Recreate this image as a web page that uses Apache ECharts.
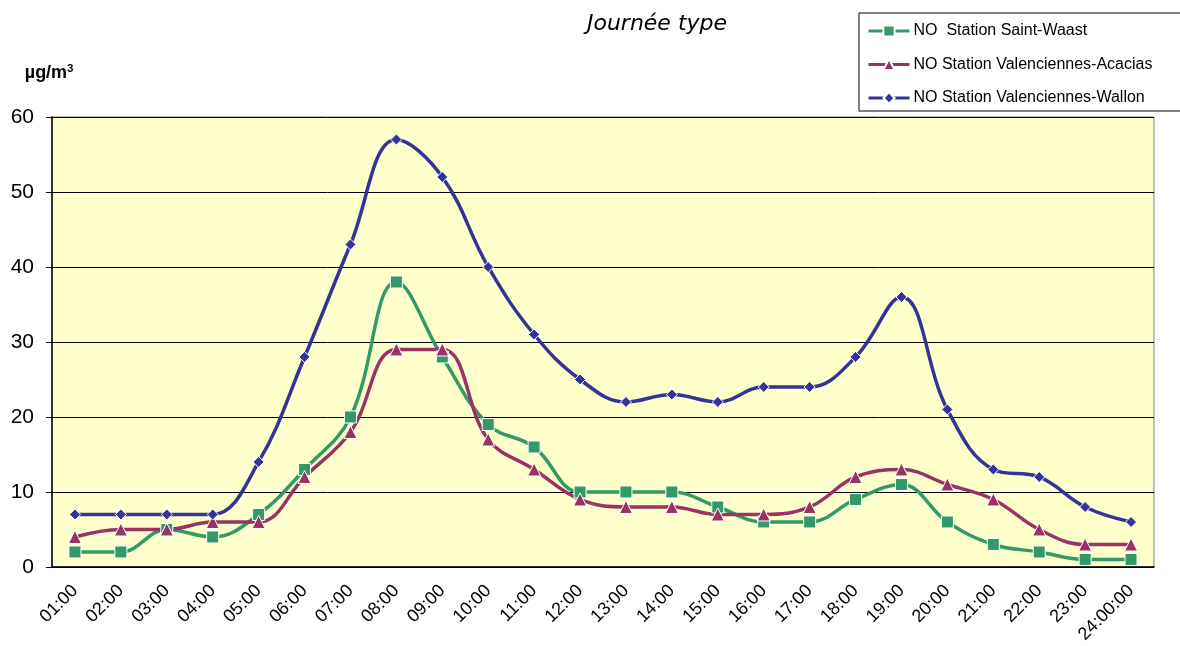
<!DOCTYPE html>
<html>
<head>
<meta charset="utf-8">
<script src="https://cdn.jsdelivr.net/npm/echarts@6/dist/echarts.min.js"></script>
<style>
	html, body { margin: 0; padding: 0; background: #FFFFFF; }
	#chart { width: 1180px; height: 646px; }
</style>
</head>
<body>
<div id="chart"></div>
<script>
	// heures de la journée type
	var hours = ['01:00','02:00','03:00','04:00','05:00','06:00','07:00','08:00','09:00','10:00','11:00','12:00',
		'13:00','14:00','15:00','16:00','17:00','18:00','19:00','20:00','21:00','22:00','23:00','24:00:00'];
	var saintWaast = [2, 2, 5, 4, 7, 13, 20, 38, 28, 19, 16, 10, 10, 10, 8, 6, 6, 9, 11, 6, 3, 2, 1, 1];
	var acacias = [4, 5, 5, 6, 6, 12, 18, 29, 29, 17, 13, 9, 8, 8, 7, 7, 8, 12, 13, 11, 9, 5, 3, 3];
	var wallon = [7, 7, 7, 7, 14, 28, 43, 57, 52, 40, 31, 25, 22, 23, 22, 24, 24, 28, 36, 21, 13, 12, 8, 6];
	var yTicks = [0, 10, 20, 30, 40, 50, 60];

	var chart = echarts.init(document.getElementById('chart'));

	function serie(name, data, color, symbol, size) {
		return {
			name: name,
			type: 'line',
			data: data,
			smooth: 0.4,
			symbol: symbol,
			symbolSize: size,
			showAllSymbol: true,
			lineStyle: { color: color, width: 3.5 },
			itemStyle: { color: color, borderColor: '#FFFFFF', borderWidth: 1 }
		};
	}

	var option = {
		animation: false,
		backgroundColor: '#FFFFFF',
		textStyle: { fontFamily: 'Liberation Sans, Arial, sans-serif' },
		title: {
			text: 'Journée type',
			left: 652,
			top: 8,
			textAlign: 'center',
			textStyle: { fontFamily: 'DejaVu Sans', fontStyle: 'italic', fontWeight: 'normal', fontSize: 22, color: '#000000' }
		},
		legend: {
			orient: 'vertical',
			left: 859,
			top: 13,
			padding: [10, 60, 5, 8],
			itemGap: 17.5,
			itemWidth: 41,
			itemHeight: 14,
			backgroundColor: '#FFFFFF',
			borderColor: '#000000',
			borderWidth: 1,
			borderRadius: 0,
			lineStyle: { width: 3 },
			textStyle: { fontSize: 16, color: '#000000', padding: [0, 0, 0, -1] },
			data: ['NO  Station Saint-Waast', 'NO Station Valenciennes-Acacias', 'NO Station Valenciennes-Wallon']
		},
		grid: {
			left: 52,
			right: 26,
			top: 117,
			bottom: 79,
			show: true,
			backgroundColor: '#FFFFCC',
			borderColor: '#808080',
			borderWidth: 1
		},
		xAxis: {
			type: 'category',
			data: hours,
			boundaryGap: true,
			axisLine: { lineStyle: { color: '#000000', width: 1.5 } },
			axisTick: { length: 6, lineStyle: { color: '#000000' } },
			axisLabel: { rotate: 45, fontSize: 18, color: '#000000', margin: 21, interval: 0 }
		},
		yAxis: {
			type: 'value',
			min: yTicks[0],
			max: yTicks[yTicks.length - 1],
			interval: 10,
			name: 'µg/m{s|3}',
			nameLocation: 'end',
			nameGap: 33,
			nameTextStyle: {
				fontSize: 18, fontWeight: 'bold', color: '#000000', align: 'center', padding: [0, 6, 0, 0],
				rich: { s: { fontSize: 11, fontWeight: 'bold', color: '#000000', verticalAlign: 'top', padding: [0, 0, 10, 0] } }
			},
			axisLine: { show: true, lineStyle: { color: '#000000', width: 1.5 } },
			axisTick: { show: true, length: 6, lineStyle: { color: '#000000' } },
			axisLabel: { fontSize: 21, color: '#000000', margin: 18 },
			splitLine: { lineStyle: { color: '#000000', width: 1 } }
		},
		series: [
			serie('NO  Station Saint-Waast', saintWaast, '#339966', 'rect', 12),
			serie('NO Station Valenciennes-Acacias', acacias, '#993366', 'triangle', 13),
			serie('NO Station Valenciennes-Wallon', wallon, '#333399', 'diamond', 11)
		]
	};
	chart.setOption(option);
</script>
</body>
</html>
